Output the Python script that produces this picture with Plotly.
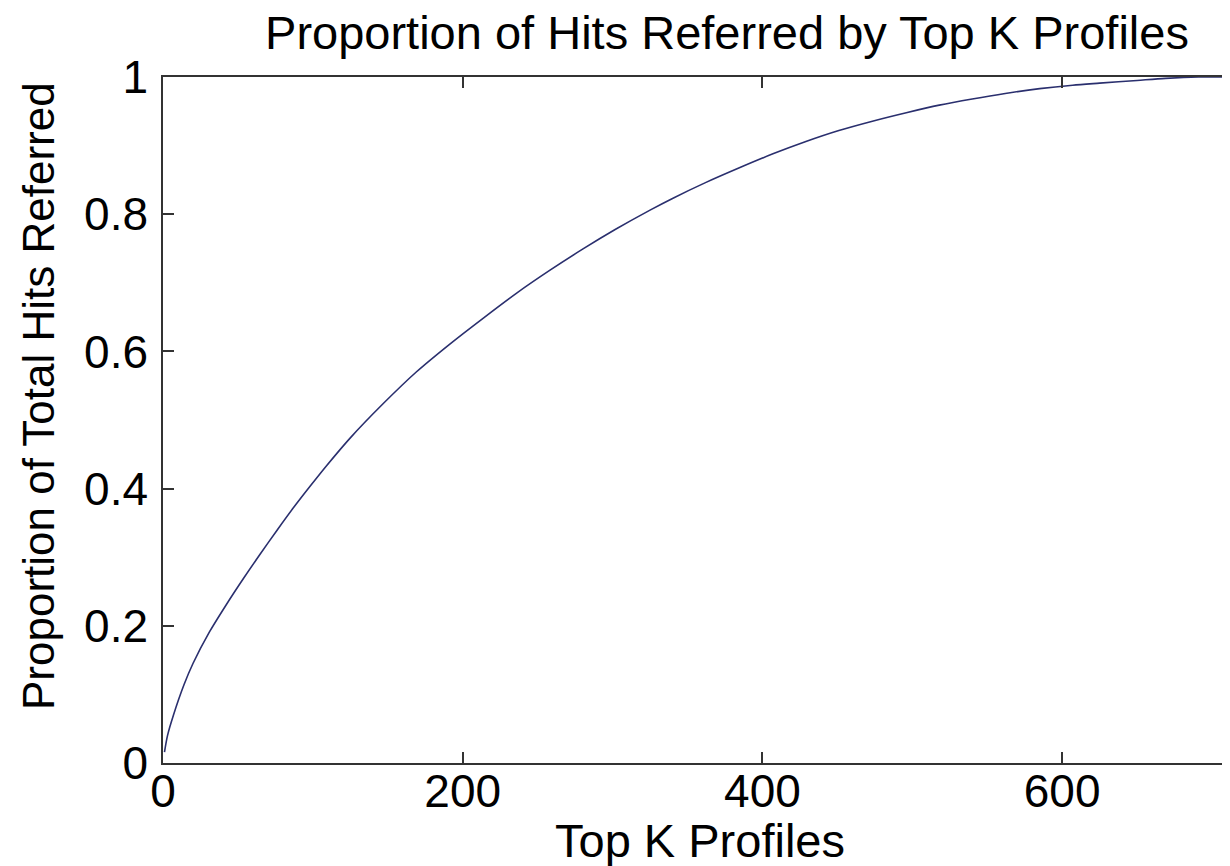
import plotly.graph_objects as go

# Data
top_k = [1, 3, 7, 14, 20, 31, 42, 54, 65, 76, 87, 98, 109, 125, 147, 169, 191,
         214, 236, 258, 280, 302, 325, 340, 362, 385, 407, 429, 451, 474, 496,
         518, 540, 562, 585, 607, 625, 650, 669, 691, 712]
proportion = [0.016, 0.040, 0.070, 0.114, 0.145, 0.191, 0.230, 0.270, 0.305,
              0.339, 0.372, 0.403, 0.433, 0.474, 0.524, 0.570, 0.610, 0.649,
              0.685, 0.718, 0.749, 0.778, 0.806, 0.823, 0.846, 0.868, 0.888,
              0.906, 0.922, 0.936, 0.948, 0.959, 0.968, 0.976, 0.983, 0.988,
              0.991, 0.995, 0.998, 1.0, 1.0]
x_ticks = [0, 200, 400, 600]
y_ticks = [0, 0.2, 0.4, 0.6, 0.8, 1]
y_tick_text = ["0", "0.2", "0.4", "0.6", "0.8", "1"]

FONT = "Liberation Sans, Arial, Helvetica, sans-serif"
AXIS_COLOR = "#333333"

# the page body adds an 8px margin; target positions are in window pixels
OFF = 8
W, H = 1230 - OFF, 866 - OFF
L, T, B = 163 - OFF, 77 - OFF, 763 - OFF
PW, PH = W - L, B - T

fig = go.Figure()
fig.add_trace(go.Scatter(
    x=top_k, y=proportion, mode="lines",
    line=dict(color="#2a2f6e", width=1.6, shape="spline", smoothing=0.8),
    showlegend=False, hoverinfo="skip",
))

fig.update_layout(
    width=W, height=H,
    margin=dict(l=L, r=0, t=T, b=H - B, pad=0),
    paper_bgcolor="white", plot_bgcolor="white",
    font=dict(family=FONT, color="black"),
    title=dict(
        text="Proportion of Hits Referred by Top K Profiles",
        font=dict(family=FONT, size=47, color="black"),
        xref="container", yref="container",
        x=(727 - OFF) / W, xanchor="center",
        y=1 - (33 - OFF) / H, yanchor="middle",
    ),
    xaxis=dict(
        range=[0, 712], tickvals=x_ticks, ticktext=[str(v) for v in x_ticks],
        ticks="inside", ticklen=11, tickwidth=1.5, tickcolor=AXIS_COLOR,
        showline=True, linecolor=AXIS_COLOR, linewidth=1.5, mirror="ticks",
        showgrid=False, zeroline=False,
        tickfont=dict(family=FONT, size=46, color="black"),
        ticklabelstandoff=-13,
    ),
    yaxis=dict(
        range=[0, 1], tickvals=y_ticks, ticktext=y_tick_text,
        ticks="inside", ticklen=11, tickwidth=1.5, tickcolor=AXIS_COLOR,
        showline=True, linecolor=AXIS_COLOR, linewidth=1.5,
        showgrid=False, zeroline=False,
        tickfont=dict(family=FONT, size=46, color="black"),
        ticklabelstandoff=4,
    ),
    annotations=[
        dict(text="Top K Profiles", xref="paper", yref="paper",
             x=(700 - 163) / PW, y=-(840 - 763) / PH,
             xanchor="center", yanchor="middle", showarrow=False,
             font=dict(family=FONT, size=47, color="black")),
        dict(text="Proportion of Total Hits Referred", xref="paper", yref="paper",
             x=-(163 - 38) / PW, y=(763 - 396) / PH, textangle=-90,
             xanchor="center", yanchor="middle", showarrow=False,
             font=dict(family=FONT, size=44, color="black")),
    ],
)

fig.write_html("out.html")
